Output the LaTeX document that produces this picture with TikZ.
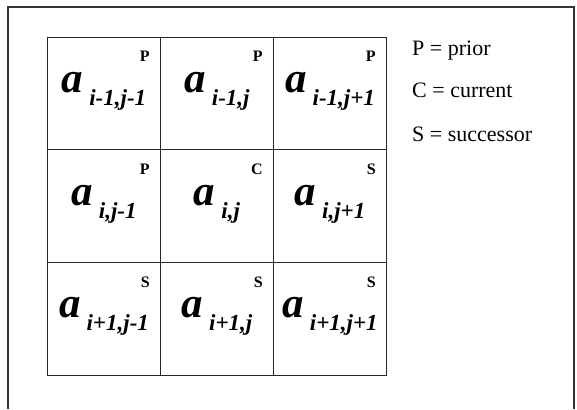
\documentclass[tikz,border=0pt]{standalone}
\usepackage{fontspec}
\setmainfont{Liberation Serif}

\begin{document}
\begin{tikzpicture}[x=1pt, y=-1pt,
	cell/.style={draw=black!85, line width=0.8pt, minimum width=113pt, minimum height=112.7pt, inner sep=0pt},
	tag/.style={font=\fontsize{16}{16}\selectfont\bfseries, inner sep=0pt},
	elem/.style={font=\bfseries\itshape, inner sep=0pt},
	legend/.style={font=\fontsize{22}{22}\selectfont, inner sep=0pt}]
	\useasboundingbox (0,0) rectangle (577,409);
	\draw[black!80, line width=1.3pt] (8,409) -- (8,7) -- (574,7) -- (574,409);
	\foreach \r/\c/\sub/\tg in {1/1/{i-1,j-1}/P, 1/2/{i-1,j}/P, 1/3/{i-1,j+1}/P,
		2/1/{i,j-1}/P, 2/2/{i,j}/C, 2/3/{i,j+1}/S,
		3/1/{i+1,j-1}/S, 3/2/{i+1,j}/S, 3/3/{i+1,j+1}/S} {
		\node[cell] (c\r\c) at ({47.5+113*(\c-0.5)},{37+112.7*(\r-0.5)}) {};
		\node[tag, anchor=base east] (t\r\c) at ([xshift=-11pt, yshift=-25pt]c\r\c.north east) {\tg};
		\node[elem, anchor=base] (e\r\c) at ([yshift=1pt]c\r\c.center) {{\fontsize{43}{43}\selectfont a}\hspace{6pt}\raisebox{-13pt}{\fontsize{23}{23}\selectfont\sub}};
	}
	\node[legend, anchor=base west] (lp) at (412,56) {P = prior};
	\node[legend, anchor=base west] (lc) at (412,98) {C = current};
	\node[legend, anchor=base west] (ls) at (412,141) {S = successor};
\end{tikzpicture}
\end{document}
